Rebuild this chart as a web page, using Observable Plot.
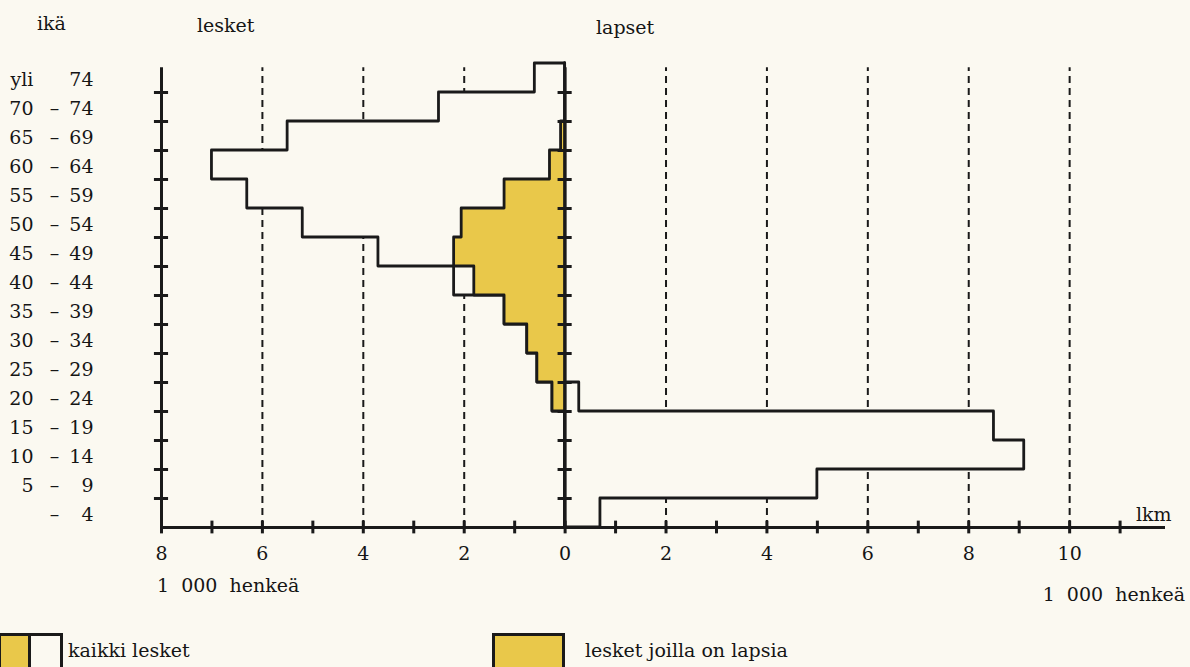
<!DOCTYPE html>
<html><head><meta charset="utf-8">
<script src="https://cdn.jsdelivr.net/npm/d3@7"></script>
<script src="https://cdn.jsdelivr.net/npm/@observablehq/plot@0.6"></script>
<style>
body{margin:0;background:#fbf9f1;font-family:"DejaVu Serif",serif;color:#151515;}
#wrap{position:relative;width:1190px;height:667px;overflow:hidden;}
#chart{position:absolute;left:0;top:0;}
.t{position:absolute;font-size:19px;white-space:pre;line-height:1;}
.sw{position:absolute;box-sizing:border-box;border:3px solid #1a1a1a;}
</style></head><body>
<div id="wrap">
  <div id="chart"></div>
  <div class="t" style="left:37px;top:14px">ikä</div>
  <div class="t" style="left:197px;top:16px">lesket</div>
  <div class="t" style="left:596px;top:18px">lapset</div>
  <div class="t" style="left:1136px;top:505px">lkm</div>
  <div class="t" style="left:157px;top:576px">1  000  henkeä</div>
  <div class="t" style="right:5px;top:585px">1  000  henkeä</div>
  <div class="sw" style="left:-2px;top:633px;width:33px;height:40px;background:#e9c84a"></div>
  <div class="sw" style="left:28px;top:633px;width:35px;height:40px;background:#fbf9f1"></div>
  <div class="t" style="left:68px;top:641px">kaikki lesket</div>
  <div class="sw" style="left:492px;top:633px;width:73px;height:40px;background:#e9c84a"></div>
  <div class="t" style="left:585px;top:641px">lesket joilla on lapsia</div>
</div>
<script>
// age groups, top to bottom
const ageFrom = ["yli", "70", "65", "60", "55", "50", "45", "40", "35", "30", "25", "20", "15", "10", "5", ""];
const ageTo   = ["74", "74", "69", "64", "59", "54", "49", "44", "39", "34", "29", "24", "19", "14", "9", "4"];
// thousands of persons, top to bottom
const leskKaikki = [0.6, 2.5, 5.5, 7.0, 6.3, 5.2, 3.7, 2.2, 1.2, 0.75, 0.55, 0.25, 0, 0, 0, 0];
const leskLapsia = [0, 0, 0.08, 0.3, 1.2, 2.05, 2.2, 1.8, 1.2, 0.75, 0.55, 0.25, 0, 0, 0, 0];
const lapset     = [0, 0, 0, 0, 0, 0, 0, 0, 0, 0, 0, 0.28, 8.5, 9.1, 5.0, 0.7];
const xTickLabels = [-8, -6, -4, -2, 0, 2, 4, 6, 8, 10];
const gridLines = [-6, -4, -2, 2, 4, 6, 8, 10];
const xMinorTicks = d3.range(-8, 12);

const n = ageTo.length;
function steps(values, sign) {
  const pts = [];
  for (let i = n - 1; i >= 0; i--) {
    const r = n - 1 - i;
    pts.push({x0: 0, x: sign * values[i], y: r});
    pts.push({x0: 0, x: sign * values[i], y: r + 1});
  }
  return pts;
}
const rows = ageTo.map((t, i) => ({from: ageFrom[i], to: t, y: n - 1 - i + 0.5}));
const yTicks = [];
for (const a of [-8, 0]) for (let b = 1; b < n; b++) yTicks.push({a, b});

const BG = "#fbf9f1", INK = "#1a1a1a";
const H = 615;
const plot = Plot.plot({
  width: 1190, height: H,
  marginLeft: 161, marginRight: 25, marginTop: 63, marginBottom: H - 527,
  x: {domain: [-8, 11.9], axis: null},
  y: {domain: [0, 16], axis: null},
  style: {background: "transparent", fontFamily: "DejaVu Serif", fontSize: "19px", color: "#151515"},
  marks: [
    Plot.ruleX(gridLines, {x: d => d, y1: 0, y2: 15.85, stroke: INK, strokeWidth: 2, strokeDasharray: "7,5"}),
    Plot.areaX(steps(lapset, 1), {x1: "x0", x2: "x", y: "y", fill: BG, stroke: INK, strokeWidth: 2.8}),
    Plot.areaX(steps(leskKaikki, -1), {x1: "x0", x2: "x", y: "y", fill: BG, stroke: INK, strokeWidth: 2.8}),
    Plot.areaX(steps(leskLapsia, -1), {x1: "x0", x2: "x", y: "y", fill: "#e9c84a", stroke: INK, strokeWidth: 2.8}),
    Plot.ruleX([-8, 0], {x: d => d, y1: 0, y2: 15.85, stroke: INK, strokeWidth: 3}),
    Plot.ruleY([0], {y: d => d, x1: -8, x2: 11.9, stroke: INK, strokeWidth: 3}),
    Plot.ruleX(xMinorTicks, {x: d => d, y1: -0.22, y2: 0.22, stroke: INK, strokeWidth: 3}),
    Plot.ruleY(yTicks, {y: "b", x1: d => d.a - 0.14, x2: d => d.a + 0.14, stroke: INK, strokeWidth: 3}),
    Plot.text(xTickLabels, {x: d => d, y: 0, dy: 26, text: d => String(Math.abs(d)), fontSize: 19}),
    Plot.text(rows.filter(d => d.from === "yli"), {y: "y", frameAnchor: "left", dx: -151, dy: 2, text: "from", textAnchor: "start", fontSize: 19}),
    Plot.text(rows.filter(d => d.from !== "yli"), {y: "y", frameAnchor: "left", dx: -128, dy: 2, text: "from", textAnchor: "end", fontSize: 19}),
    Plot.text(rows.filter(d => d.from !== "yli"), {y: "y", frameAnchor: "left", dx: -107, dy: 2, text: () => "–", textAnchor: "middle", fontSize: 19}),
    Plot.text(rows, {y: "y", frameAnchor: "left", dx: -68, dy: 2, text: "to", textAnchor: "end", fontSize: 19})
  ]
});
document.getElementById("chart").appendChild(plot);
</script>
</body></html>
